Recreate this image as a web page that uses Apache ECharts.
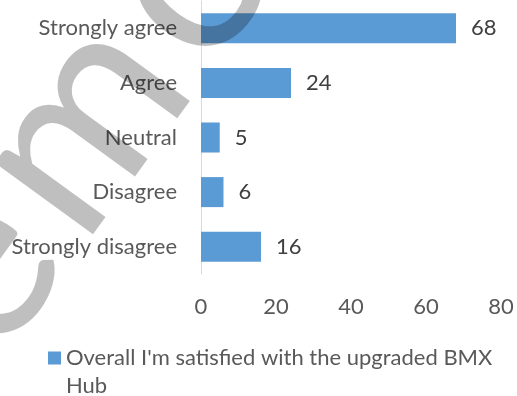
<!DOCTYPE html>
<html>
<head>
<meta charset="utf-8">
<script src="https://cdn.jsdelivr.net/npm/echarts@6/dist/echarts.min.js"></script>
<style>
  html, body { margin: 0; padding: 0; background: #ffffff; }
  #chart { width: 517px; height: 396px; }
</style>
</head>
<body>
<div id="chart"></div>
<script>
// Survey answers, top to bottom
const categories = ['Strongly agree', 'Agree', 'Neutral', 'Disagree', 'Strongly disagree'];
const responses = [68, 24, 5, 6, 16];
const seriesName = "Overall I'm satisfied with the upgraded BMX Hub";
const xTicks = { min: 0, max: 80, step: 20 };
const stampText = 'Demo';

const FONT = 'Lato, Carlito, Calibri, sans-serif';

// Diagonal, letter-spaced "Demo" stamp laid over the chart.
// Each letter is set along one rotated baseline; the middle stem of the "m"
// is pinned to a given point and the canvas measures the glyph advances.
function stampGraphics() {
  const fs = 240;
  const tracking = 16;
  const angle = 54 * Math.PI / 180;
  const ctx = document.createElement('canvas').getContext('2d');
  ctx.font = fs + 'px ' + FONT;
  ctx.textBaseline = 'middle';
  let mid = Math.abs(ctx.measureText('m').alphabeticBaseline || 0);
  if (!mid || mid > fs) mid = 0.35 * fs;

  const letters = stampText.split('');
  const offsets = [];
  let pos = 0;
  letters.forEach((ch) => {
    offsets.push(pos);
    pos += ctx.measureText(ch).width + tracking;
  });

  const pinIndex = letters.indexOf('m');
  const pin = { x: 144, y: 164 };            // baseline foot of the m's middle stem
  const pinAlong = offsets[pinIndex] + 0.432 * fs;
  const rx = Math.cos(angle), ry = -Math.sin(angle);   // reading direction
  const dx = Math.sin(angle), dy = Math.cos(angle);    // glyph "down" direction

  return letters.map((ch, i) => {
    const along = offsets[i] - pinAlong;
    const bx = pin.x + along * rx, by = pin.y + along * ry;
    return {
      type: 'text',
      z: 100,
      x: bx - mid * dx,
      y: by - mid * dy,
      rotation: angle,
      silent: true,
      style: {
        text: ch,
        fontSize: fs,
        fontFamily: FONT,
        fill: 'rgba(0,0,0,0.25)',
        align: 'left',
        verticalAlign: 'middle'
      }
    };
  });
}

const chart = echarts.init(document.getElementById('chart'), null, { renderer: 'canvas' });

chart.setOption({
  animation: false,
  backgroundColor: '#ffffff',
  textStyle: { fontFamily: FONT },
  grid: { left: 201, right: 16, top: 1, bottom: 122, containLabel: false },
  xAxis: {
    type: 'value',
    min: xTicks.min,
    max: xTicks.max,
    interval: xTicks.step,
    axisLine: { show: false },
    axisTick: { show: false },
    splitLine: { show: false },
    axisLabel: { color: '#595959', fontSize: 22, fontFamily: FONT, margin: 22 }
  },
  yAxis: {
    type: 'category',
    data: categories,
    inverse: true,
    axisLine: { show: true, lineStyle: { color: '#d9d9d9', width: 1 } },
    axisTick: { show: false },
    splitLine: { show: false },
    axisLabel: { color: '#595959', fontSize: 22, fontFamily: FONT, margin: 24 }
  },
  legend: {
    data: [seriesName],
    left: 48,
    top: 344,
    padding: 0,
    // square swatch at the top of a taller box, so it lines up with the first text line
    icon: 'path://M0,0H13V13H0Z M0,41L13,41L13,41Z',
    itemWidth: 13,
    itemHeight: 41,
    itemGap: 6,
    textStyle: {
      color: '#595959',
      fontSize: 22,
      fontFamily: FONT,
      lineHeight: 28,
      width: 440,
      overflow: 'break'
    }
  },
  series: [{
    name: seriesName,
    type: 'bar',
    data: responses,
    barCategoryGap: '45%',
    itemStyle: { color: '#5b9bd5' },
    label: {
      show: true,
      position: 'right',
      distance: 15,
      color: '#404040',
      fontSize: 22,
      fontFamily: FONT
    }
  }],
  graphic: stampGraphics()
});
</script>
</body>
</html>
